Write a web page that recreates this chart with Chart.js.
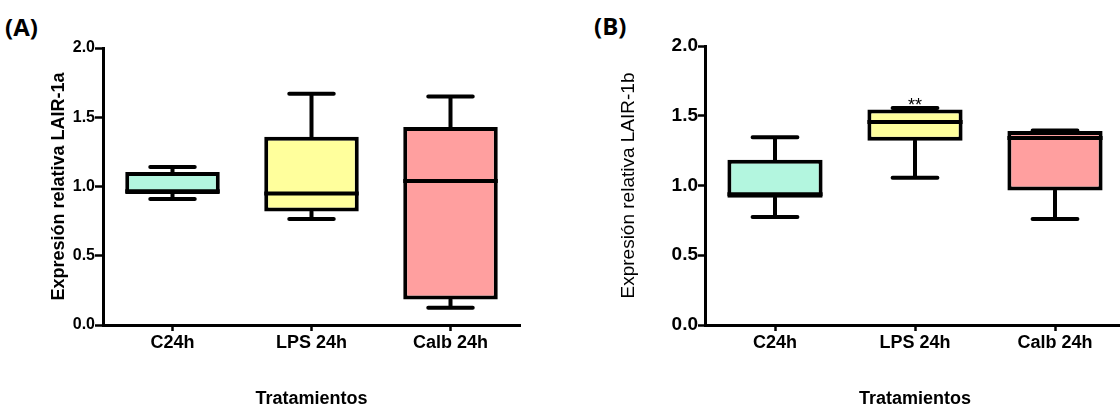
<!DOCTYPE html>
<html>
<head>
<meta charset="utf-8">
<script src="https://cdn.jsdelivr.net/npm/chart.js@4.4.0/dist/chart.umd.min.js"></script>
<style>
  body { margin: 0; width: 1120px; height: 408px; overflow: hidden; background: #fff; position: relative; }
  .panel { position: absolute; top: 0; }
  .tag { position: absolute; font-family: "Open Sans", sans-serif; font-weight: bold; font-size: 24px; color: #000; }
</style>
</head>
<body>
<div class="tag" style="left:5px; top:10px">(A)</div>
<div class="tag" style="left:594px; top:9px">(B)</div>
<canvas id="chartA" class="panel" style="left:0" width="560" height="408"></canvas>
<canvas id="chartB" class="panel" style="left:560px" width="570" height="408"></canvas>
<script>
// categories shared by both panels
const categories = ['C24h', 'LPS 24h', 'Calb 24h'];
const yTicks = [0, 0.5, 1.0, 1.5, 2.0];

// (A) LAIR-1a box plot stats
const lairA_min    = [0.91, 0.765, 0.125];
const lairA_q1     = [0.945, 0.82, 0.185];
const lairA_median = [0.965, 0.95, 1.04];
const lairA_q3     = [1.105, 1.36, 1.43];
const lairA_max    = [1.14, 1.67, 1.65];
const lairA_marks  = ['', '', ''];

// (B) LAIR-1b box plot stats
const lairB_min    = [0.775, 1.055, 0.76];
const lairB_q1     = [0.912, 1.32, 0.965];
const lairB_median = [0.937, 1.455, 1.34];
const lairB_q3     = [1.185, 1.545, 1.39];
const lairB_max    = [1.345, 1.555, 1.395];
const lairB_marks  = ['', '**', ''];

const boxColors = ['#b3f6df', '#ffff9c', '#ff9f9f'];
const fam = '"Liberation Sans", Arial, sans-serif';

// whiskers under the boxes, medians and significance marks on top
const boxWhiskers = {
  id: 'boxWhiskers',
  beforeDatasetsDraw(chart, args, opts) {
    const ctx = chart.ctx;
    const y = chart.scales.y;
    const bars = chart.getDatasetMeta(0).data;
    const cap = chart.scales.x.width / chart.data.labels.length * opts.capPercentage / 2;
    ctx.save();
    ctx.strokeStyle = '#000';
    ctx.lineWidth = opts.lineWidth;
    ctx.lineCap = 'round';
    bars.forEach((bar, i) => {
      const box = chart.data.datasets[0].data[i];
      const yMin = y.getPixelForValue(opts.min[i]);
      const yMax = y.getPixelForValue(opts.max[i]);
      ctx.beginPath();
      ctx.moveTo(bar.x, y.getPixelForValue(box[0]));
      ctx.lineTo(bar.x, yMin);
      ctx.moveTo(bar.x, y.getPixelForValue(box[1]));
      ctx.lineTo(bar.x, yMax);
      ctx.moveTo(bar.x - cap, yMin);
      ctx.lineTo(bar.x + cap, yMin);
      ctx.moveTo(bar.x - cap, yMax);
      ctx.lineTo(bar.x + cap, yMax);
      ctx.stroke();
    });
    ctx.restore();
  },
  afterDatasetsDraw(chart, args, opts) {
    const ctx = chart.ctx;
    const y = chart.scales.y;
    const bars = chart.getDatasetMeta(0).data;
    ctx.save();
    ctx.strokeStyle = '#000';
    ctx.lineWidth = opts.lineWidth;
    bars.forEach((bar, i) => {
      const ym = y.getPixelForValue(opts.median[i]);
      ctx.beginPath();
      ctx.moveTo(bar.x - bar.width / 2, ym);
      ctx.lineTo(bar.x + bar.width / 2, ym);
      ctx.stroke();
      if (opts.marks[i]) {
        ctx.fillStyle = '#000';
        ctx.font = '18px ' + fam;
        ctx.textAlign = 'center';
        ctx.textBaseline = 'alphabetic';
        ctx.fillText(opts.marks[i], bar.x, y.getPixelForValue(opts.max[i]) + 3);
      }
    });
    ctx.restore();
  }
};

function makeChart(id, s) {
  return new Chart(document.getElementById(id), {
    type: 'bar',
    data: {
      labels: categories,
      datasets: [{
        data: categories.map((c, i) => [s.q1[i], s.q3[i]]),
        backgroundColor: boxColors,
        borderColor: '#000',
        borderWidth: 4,
        borderSkipped: false,
        barPercentage: 0.68,
        categoryPercentage: 1
      }]
    },
    options: {
      responsive: false,
      animation: false,
      devicePixelRatio: 1,
      layout: { padding: { top: s.top, right: s.right, left: 0, bottom: 0 } },
      plugins: {
        legend: { display: false },
        tooltip: { enabled: false },
        boxWhiskers: { min: s.min, median: s.median, max: s.max, marks: s.marks, lineWidth: 4, capPercentage: 0.32 }
      },
      scales: {
        x: {
          grid: { display: true, drawOnChartArea: false, drawTicks: true, tickLength: 6, tickWidth: 2.5, tickColor: '#000', offset: false },
          border: { display: true, color: '#000', width: 3 },
          ticks: { color: '#000', padding: 1, font: { family: fam, size: 18, weight: 'bold' } },
          title: { display: true, text: 'Tratamientos', color: '#000', padding: { top: 0, bottom: 0 },
                   font: { family: fam, size: 18, weight: 'bold', lineHeight: 1.0 } },
          afterFit: sc => { sc.height = 83; }
        },
        y: {
          min: 0, max: 2,
          afterBuildTicks: sc => { sc.ticks = yTicks.map(v => ({ value: v })); },
          grid: { display: true, drawOnChartArea: false, drawTicks: true, tickLength: s.tickLen, tickWidth: 2.5, tickColor: '#000' },
          border: { display: true, color: '#000', width: 3 },
          ticks: { color: '#000', padding: 0, font: { family: fam, size: s.yTickSize, weight: 'bold' },
                   callback: v => v.toFixed(1) },
          title: { display: true, text: s.yTitle, color: '#000', padding: { top: s.titlePad, bottom: 0 },
                   font: { family: fam, size: s.yTitleSize, weight: s.yTitleWeight } },
          afterFit: sc => { sc.width = s.yWidth; }
        }
      }
    },
    plugins: [boxWhiskers]
  });
}

makeChart('chartA', {
  min: lairA_min, q1: lairA_q1, median: lairA_median, q3: lairA_q3, max: lairA_max, marks: lairA_marks,
  top: 48, right: 40, yWidth: 103, tickLen: 8, yTickSize: 16,
  yTitle: 'Expresión relativa LAIR-1a', yTitleSize: 18, yTitleWeight: 'bold', titlePad: 48
});

makeChart('chartB', {
  min: lairB_min, q1: lairB_q1, median: lairB_median, q3: lairB_q3, max: lairB_max, marks: lairB_marks,
  top: 46, right: 5, yWidth: 145, tickLen: 7, yTickSize: 19,
  yTitle: 'Expresión relativa LAIR-1b', yTitleSize: 19, yTitleWeight: 'normal', titlePad: 57
});
</script>
</body>
</html>
